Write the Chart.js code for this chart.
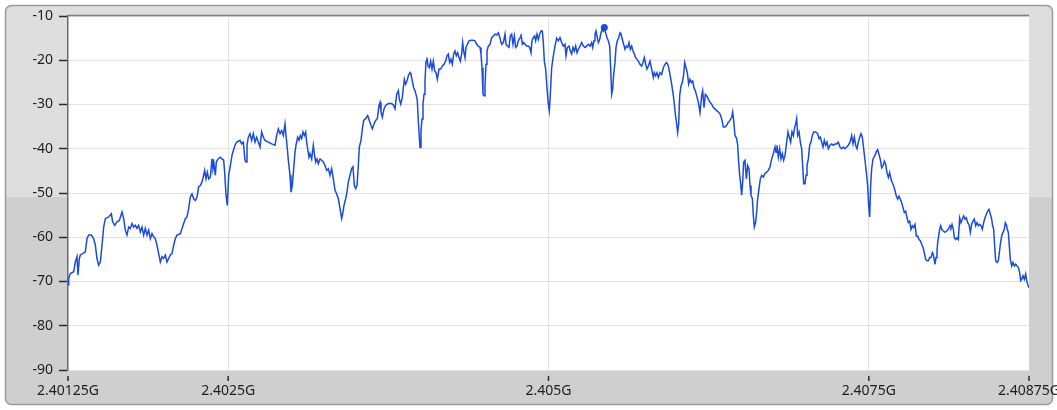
<!DOCTYPE html>
<html>
<head>
<meta charset="utf-8">
<style>
  html, body { margin: 0; padding: 0; background: #fff; }
  #wrap { width: 1057px; height: 410px; }
</style>
<script src="https://cdn.jsdelivr.net/npm/chart.js@4/dist/chart.umd.min.js"></script>
</head>
<body>
<div id="wrap"><canvas id="spectrum" width="1057" height="410"></canvas></div>
<script>
// sweep span and trace resolution
const F_START_GHZ = 2.40125;
const F_STOP_GHZ = 2.40875;
const SWEEP_BINS = 2883;

// x axis ticks
const freqTicks = [2.40125, 2.4025, 2.405, 2.4075, 2.40875];
const freqTickLabels = ["2.40125G", "2.4025G", "2.405G", "2.4075G", "2.40875G"];

// trace: sweep bin index and level (dBm)
const traceBin = [
  0, 2, 7, 17, 22, 27, 30, 34, 37, 44,
  52, 57, 62, 70, 77, 82, 87, 92, 97, 102,
  107, 112, 122, 130, 134, 140, 147, 154, 162, 167,
  172, 177, 182, 187, 192, 197, 202, 207, 212, 217,
  222, 227, 232, 237, 242, 247, 252, 257, 262, 267,
  272, 277, 282, 287, 292, 297, 302, 307, 312, 317,
  322, 327, 337, 342, 347, 352, 357, 362, 367, 372,
  377, 382, 387, 392, 397, 402, 407, 410, 414, 418,
  422, 427, 432, 435, 438, 442, 445, 450, 457, 462,
  467, 470, 474, 478, 482, 487, 492,
  496, 501, 506, 511, 516, 521, 526, 531, 534, 537,
  541, 546, 551, 556, 561, 566, 571, 576, 581, 586,
  591, 601, 611, 621, 626, 631, 636, 641, 646, 651,
  654, 658, 661, 666, 669, 673, 677, 681, 684, 689,
  693, 697, 701, 705, 709, 713, 716, 719, 723, 726,
  731, 736, 739, 743, 747, 751, 756, 761, 766, 771,
  776, 781, 786, 791, 796, 801, 806, 811, 816, 821,
  824, 828, 833, 837, 841, 846, 851, 855, 859, 863,
  867, 871, 874, 879, 883, 887, 893, 899, 904, 909,
  913, 918, 923, 928, 933, 936, 939, 943, 948, 953,
  961, 971, 976, 981,
  986, 991, 994, 998, 1003, 1006, 1009, 1013, 1017, 1021,
  1026, 1029, 1033, 1037, 1041, 1045, 1048, 1051, 1054, 1056,
  1059, 1062, 1065, 1068, 1071, 1074, 1077, 1080, 1084, 1088,
  1092, 1096, 1100, 1104, 1108, 1113, 1118, 1123, 1128, 1133,
  1137, 1141, 1145, 1149, 1153, 1157, 1161, 1165, 1169, 1173,
  1177, 1181, 1184, 1187, 1191, 1194, 1198, 1203, 1209, 1215,
  1221, 1226, 1231, 1236, 1239, 1242, 1245, 1248, 1251, 1254,
  1257, 1261, 1266, 1271, 1276, 1281, 1286, 1291, 1294, 1298,
  1301, 1306, 1311, 1314, 1318, 1323, 1327, 1331, 1335, 1339,
  1343, 1347, 1351, 1356, 1359, 1363, 1367, 1371, 1376, 1381,
  1385, 1389, 1392, 1396, 1400, 1403, 1407, 1411, 1415, 1419,
  1423, 1426, 1429, 1433, 1437, 1441, 1444, 1447, 1451, 1456,
  1461,
  1466, 1471, 1476, 1481, 1486, 1491, 1494, 1498, 1503, 1507,
  1511, 1515, 1519, 1523, 1527, 1531, 1536, 1541, 1546, 1551,
  1556, 1561, 1566, 1571, 1574, 1578, 1581, 1584, 1588, 1591,
  1595, 1599, 1603, 1606, 1609, 1613, 1617, 1621, 1625, 1628,
  1631, 1634, 1637, 1641, 1644, 1648, 1652, 1656, 1659, 1663,
  1667, 1671, 1675, 1679, 1683, 1687, 1691, 1695, 1699, 1703,
  1707, 1711, 1716, 1721, 1725, 1729, 1733, 1737, 1741, 1746,
  1751, 1756, 1759, 1763, 1767, 1771, 1776, 1781, 1786, 1791,
  1796, 1801, 1806, 1811, 1816, 1819, 1822, 1826, 1829, 1832,
  1835, 1839, 1843, 1847, 1850, 1854, 1858, 1862, 1866, 1870,
  1874, 1878, 1882, 1886, 1891, 1896, 1901, 1904, 1908, 1912,
  1916, 1921, 1926, 1931, 1936, 1941,
  1946, 1951, 1956, 1961, 1966, 1971, 1976, 1981, 1986, 1991,
  1994, 1997, 2001, 2006, 2009, 2012, 2015, 2018, 2021, 2024,
  2027, 2031, 2035, 2039, 2043, 2046, 2049, 2053, 2056, 2059,
  2063, 2066, 2069, 2073, 2077, 2081, 2086, 2091, 2096, 2101,
  2106, 2111, 2116, 2121, 2124, 2127, 2131, 2135, 2139, 2143,
  2147, 2151, 2156, 2160, 2164, 2168, 2172, 2176, 2180, 2183,
  2186, 2189, 2193, 2197, 2201, 2204, 2207, 2211, 2214, 2217,
  2221, 2225, 2229, 2233, 2237, 2243, 2249, 2253, 2257, 2261,
  2265, 2269, 2273, 2277, 2281, 2286, 2291, 2296, 2301, 2306,
  2311, 2316, 2321, 2326, 2331, 2336, 2341, 2346, 2351, 2355,
  2359, 2363, 2367, 2371, 2375, 2379, 2383, 2387, 2391, 2396,
  2399, 2402, 2405, 2408, 2411, 2415, 2421,
  2426, 2429, 2433, 2437, 2441, 2445, 2449, 2453, 2457, 2461,
  2465, 2469, 2473, 2477, 2481, 2485, 2489, 2493, 2497, 2501,
  2505, 2509, 2513, 2517, 2521, 2525, 2529, 2533, 2537, 2541,
  2545, 2549, 2553, 2557, 2561, 2565, 2569, 2573, 2577, 2581,
  2585, 2589, 2593, 2596, 2599, 2601, 2604, 2607, 2609, 2612,
  2615, 2618, 2621, 2626, 2631, 2636, 2641, 2646, 2649, 2652,
  2656, 2659, 2663, 2667, 2671, 2675, 2679, 2683, 2687, 2691,
  2695, 2699, 2703, 2707, 2711, 2715, 2719, 2723, 2727, 2731,
  2735, 2739, 2743, 2747, 2751, 2755, 2759, 2763, 2767, 2771,
  2774, 2777, 2780, 2783, 2787, 2791, 2794, 2797, 2801, 2805,
  2809, 2812, 2815, 2818, 2821, 2824, 2827, 2831, 2835, 2839,
  2843, 2847, 2851, 2855, 2858, 2861, 2865, 2869, 2873, 2876,
  2879, 2883
];

const traceDbm = [
  -70.8, -69.3, -68.2, -67.8, -65.6, -64.4, -68.6, -64.8, -64, -63.7,
  -63.3, -60.3, -59.5, -59.5, -60.3, -61.8, -64.8, -66.3, -65.6, -61.8,
  -57.7, -55.8, -55.4, -54.7, -56.5, -57.3, -56.5, -56.2, -54.3, -55.8,
  -58.4, -59.5, -57.7, -58, -56.9, -57.7, -57.3, -58, -57.3, -58.8,
  -57.7, -59.5, -58, -59.5, -58.4, -60.3, -59.2, -59.9, -60.3, -61.8,
  -63.7, -65.6, -64.4, -64.8, -64, -65.6, -64.8, -64, -63.7, -61.8,
  -60.3, -59.5, -59.2, -58, -56.9, -55.8, -55.4, -53.5, -50.9, -50.2,
  -51.3, -51.7, -50.9, -48.6, -48.3, -47.5, -46, -44.9, -46.8, -45.3,
  -46.8, -46.4, -42.3, -44.5, -43.4, -46, -43, -42.3, -41.9, -42.3,
  -42.6, -45.3, -50.5, -52.8, -46, -43.8, -41.5,
  -40.4, -39.2, -38.5, -38.3, -38.1, -38.9, -38.5, -42.6, -43, -39.2,
  -37.4, -36.6, -38.1, -36.6, -38.5, -37.4, -38.5, -39.6, -36.2, -37.4,
  -38.1, -38.5, -38.9, -39.2, -37, -35.5, -36.6, -35.9, -37, -34.4,
  -37, -40, -42.6, -46, -49.8, -48.3, -44.5, -40.8, -39.2, -37.4,
  -38.1, -37, -37.7, -36.2, -37, -36.2, -38.5, -40, -41.9, -41.1,
  -42.3, -39.2, -41.1, -43, -42.3, -43.4, -42.3, -42.6, -43, -43.8,
  -44.9, -44.5, -46, -44.5, -46.8, -49.4, -50.2, -51.3, -53.5, -55.8,
  -54.7, -52.8, -51.3, -49.8, -47.5, -46, -44.5, -44.1, -48.3, -49,
  -48.3, -43.8, -39.6, -38.1, -35.5, -33.6, -33.2, -32.5, -33.6, -34.7,
  -35.5, -34.4, -33.6, -33.2, -30.2, -29.5, -31.7, -32.9, -31, -30.2,
  -29.8, -29.8, -30.1, -31,
  -27.7, -26.9, -28.8, -29.9, -28.4, -26.2, -24.3, -25.4, -24.7, -23.5,
  -22.8, -23.2, -24.7, -26.2, -26.9, -28, -29.2, -33.7, -37.4, -39.7,
  -35.9, -33.3, -29.9, -27.7, -24.7, -20.2, -19.4, -21.3, -21.7, -20.2,
  -22, -20.2, -22.4, -22.8, -24.3, -22, -22, -21.3, -20.9, -20.2,
  -19, -18.6, -20.5, -19.8, -20.9, -18.6, -17.9, -19, -18.3, -19.4,
  -20.2, -18.6, -16, -17.9, -19.4, -17.1, -16.4, -15.6, -15.5, -15.5,
  -15.6, -16.4, -16.8, -17.1, -18.6, -21.7, -27.7, -28, -25.8, -20.9,
  -17.9, -16.8, -16.4, -14.9, -14.5, -14.1, -14.3, -13.8, -14.5, -15.6,
  -16.4, -16, -14.1, -16.4, -16.8, -17.1, -14.5, -14.1, -16.4, -14.5,
  -17.1, -16.8, -15.6, -14.9, -14.1, -16.4, -16, -16.4, -16.8, -16.8,
  -17.1, -18.3, -15.6, -14.9, -14.5, -15.6, -14.1, -15.3, -14.1, -13.4,
  -13.4, -16, -20.2, -22, -26.2, -29.9, -31.4, -27.7, -21.7, -19,
  -16.8,
  -15, -15.6, -14.9, -16, -16.8, -16.4, -19, -17.1, -16.8, -17.9,
  -18.6, -17.1, -17.9, -16.8, -18.3, -17.5, -16.8, -16, -16.8, -17.1,
  -16.8, -16.4, -16.8, -16, -17.1, -15.6, -14.1, -13.4, -14.9, -16,
  -15.3, -13.8, -13, -13.4, -12.6, -13.8, -14.9, -15.6, -16.8, -21.7,
  -27.7, -26.6, -23.2, -20.5, -17.1, -15.6, -14.9, -13.8, -14.1, -15.3,
  -16.4, -17.5, -16.8, -17.1, -16, -17.5, -16.8, -17.9, -18.6, -19.4,
  -19.8, -20.2, -20.9, -21.3, -20.5, -19.4, -20.9, -22, -21.3, -20.2,
  -22, -23.9, -22.8, -23.5, -22.8, -23.9, -22.8, -23.2, -21.7, -20.9,
  -20.5, -21.3, -23.2, -25.4, -28, -29.9, -32.2, -34.4, -36.3, -34.4,
  -28, -25.8, -25, -23.2, -20.5, -21.7, -22.8, -25.4, -24.3, -25,
  -24.7, -26.2, -26.9, -28, -29.5, -31.8, -28, -26.9, -30.7, -27.7,
  -28, -28.8, -29.5, -29.9, -30.7, -31,
  -31.4, -31.7, -32.1, -33.2, -35.1, -35.1, -34.7, -34, -33.6, -32.9,
  -31.7, -33.6, -37, -37.7, -39.2, -43, -46, -47.9, -50.5, -47.5,
  -43, -42.6, -46.8, -43.8, -44.5, -48.3, -50.5, -51.3, -55, -57.7,
  -56.6, -54.3, -51.3, -49, -46.8, -46, -46.4, -45.6, -45.3, -44.9,
  -44.1, -42.3, -41.1, -39.6, -40.8, -39.2, -41.9, -40, -42.3, -41.1,
  -42.6, -41.5, -38.5, -36.2, -37.4, -38.5, -36.2, -37, -35.1, -34.4,
  -33.2, -37, -36.2, -38.5, -40, -43.8, -47.9, -47.9, -46, -43.8,
  -42.3, -39.2, -38.5, -37, -36.2, -36.2, -36.6, -37.7, -37.4, -38.5,
  -39.6, -38.1, -39.2, -38.5, -40, -39.2, -38.9, -39.2, -38.9, -38.9,
  -38.5, -39.6, -40, -39.6, -40, -39.6, -39.2, -38.5, -37, -38.9,
  -37.4, -39.2, -40, -38.5, -37.4, -36.6, -37.4, -40, -42.6, -46,
  -48.3, -52.8, -55.4, -48.3, -44.5, -42.3, -41.5,
  -40.5, -40.2, -41.3, -42.4, -44.3, -43.9, -42.8, -43.5, -45.4, -46.5,
  -45.4, -46.9, -47.7, -48.4, -49.5, -50.7, -51.4, -50.7, -51.4, -52.2,
  -53.3, -54.4, -54.1, -55.6, -56.7, -56.4, -58.2, -57.4, -57.8, -57.1,
  -59.7, -59.7, -60.5, -60.8, -61.6, -62.3, -63.5, -65, -65.3, -65.3,
  -64.6, -64.6, -63.5, -63.9, -65.3, -66.1, -64.6, -63.1, -61.2, -59.7,
  -58.2, -57.4, -58.2, -58.6, -58.9, -58.6, -58.2, -57.4, -57.8, -57.1,
  -58.2, -60.1, -60.5, -60.1, -60.5, -55.6, -56.7, -55.9, -55.2, -55.9,
  -55.6, -56.7, -57.1, -58.9, -57.1, -56.3, -55.9, -57.4, -56.7, -57.4,
  -57.1, -57.4, -58.2, -56.7, -55.6, -54.8, -54.1, -53.7, -54.8, -55.9,
  -57.4, -58.2, -62, -65.3, -65.7, -65.3, -63.5, -61.6, -59.7, -58.9,
  -58.2, -56.7, -57.1, -58.2, -58.9, -62, -65, -66.5, -65.7, -66.5,
  -66.1, -66.5, -66.8, -68, -69.8, -69.5, -68.7, -69.5, -68.3, -69.8,
  -70.6, -71.4
];

const binGHz = (F_STOP_GHZ - F_START_GHZ) / SWEEP_BINS;
const tracePoints = traceBin.map((b, i) => ({ x: F_START_GHZ + b * binGHz, y: traceDbm[i] }));
const peakIndex = traceDbm.indexOf(Math.max(...traceDbm));

const TRACE_COLOR = "#1a4bdc";
const SPLIT_Y = 197;

// panel frame, two-tone grey, white plot area
const panelBackground = {
  id: "panelBackground",
  beforeDraw(chart) {
    const { ctx, chartArea: a } = chart;
    const x0 = 5.5, y0 = 5.5, x1 = 1052.5, y1 = 404.5, r = 6;
    ctx.save();
    ctx.fillStyle = "#ffffff";
    ctx.fillRect(0, 0, chart.width, chart.height);
    ctx.beginPath();
    ctx.roundRect(x0, y0, x1 - x0, y1 - y0, r);
    ctx.save();
    ctx.clip();
    ctx.fillStyle = "#dedede";
    ctx.fillRect(x0, y0, x1 - x0, SPLIT_Y - y0);
    ctx.fillStyle = "#cfcfcf";
    ctx.fillRect(x0, SPLIT_Y, x1 - x0, y1 - SPLIT_Y);
    ctx.restore();
    ctx.lineWidth = 1.5;
    ctx.strokeStyle = "#9a9a9a";
    ctx.stroke();
    ctx.fillStyle = "#ffffff";
    ctx.fillRect(a.left, a.top, a.right - a.left, a.bottom - a.top);
    ctx.restore();
  },
  afterDraw(chart) {
    const { ctx, chartArea: a } = chart;
    const xs = chart.scales.x;
    ctx.save();
    // top edge of the plot
    ctx.strokeStyle = "#7d7d7d";
    ctx.lineWidth = 1.5;
    ctx.beginPath();
    ctx.moveTo(a.left, a.top - 0.5);
    ctx.lineTo(a.right, a.top - 0.5);
    ctx.stroke();
    // short x tick marks below the plot
    ctx.strokeStyle = "#2a2a2a";
    ctx.lineWidth = 1.5;
    ctx.beginPath();
    xs.ticks.forEach((t) => {
      const px = xs.getPixelForValue(t.value);
      ctx.moveTo(px, a.bottom + 6);
      ctx.lineTo(px, a.bottom + 11);
    });
    ctx.stroke();
    ctx.restore();
  },
};

Chart.defaults.font.family = '"Noto Sans", sans-serif';
Chart.defaults.font.size = 14;
Chart.defaults.color = "#1e1e1e";

new Chart(document.getElementById("spectrum"), {
  type: "line",
  data: {
    datasets: [
      {
        data: tracePoints,
        borderColor: TRACE_COLOR,
        backgroundColor: TRACE_COLOR,
        borderWidth: 1.5,
        tension: 0,
        pointRadius: (c) => (c.dataIndex === peakIndex ? 3.5 : 0),
        pointHoverRadius: 0,
        pointBorderWidth: 0,
      },
    ],
  },
  options: {
    responsive: false,
    animation: false,
    events: [],
    layout: { padding: { top: 16, right: 28, bottom: 0, left: 0 } },
    plugins: { legend: { display: false }, tooltip: { enabled: false } },
    scales: {
      x: {
        type: "linear",
        min: F_START_GHZ,
        max: F_STOP_GHZ,
        afterBuildTicks: (scale) => {
          scale.ticks = freqTicks.map((v) => ({ value: v }));
        },
        afterFit: (scale) => {
          scale.height = 40;
          scale.paddingLeft = 0;
          scale.paddingRight = 0;
        },
        border: { display: false },
        grid: {
          color: (c) => (c.index === 0 || c.index === freqTicks.length - 1 ? "rgba(0,0,0,0)" : "#e2e2e2"),
          lineWidth: 1,
          tickLength: 11,
          tickColor: "rgba(0,0,0,0)",
        },
        ticks: {
          maxRotation: 0,
          autoSkip: false,
          padding: 2,
          callback: (v, i) => freqTickLabels[i],
        },
      },
      y: {
        min: -90,
        max: -10,
        afterFit: (scale) => {
          scale.width = 68;
          scale.paddingTop = 0;
          scale.paddingBottom = 0;
        },
        border: { display: true, color: "#6a6a6a", width: 1.5 },
        grid: {
          color: "#e2e2e2",
          lineWidth: 1,
          tickLength: 9,
          tickColor: "#2a2a2a",
          tickWidth: 1.5,
        },
        ticks: { stepSize: 10, padding: 6 },
      },
    },
  },
  plugins: [panelBackground],
});
</script>
</body>
</html>
